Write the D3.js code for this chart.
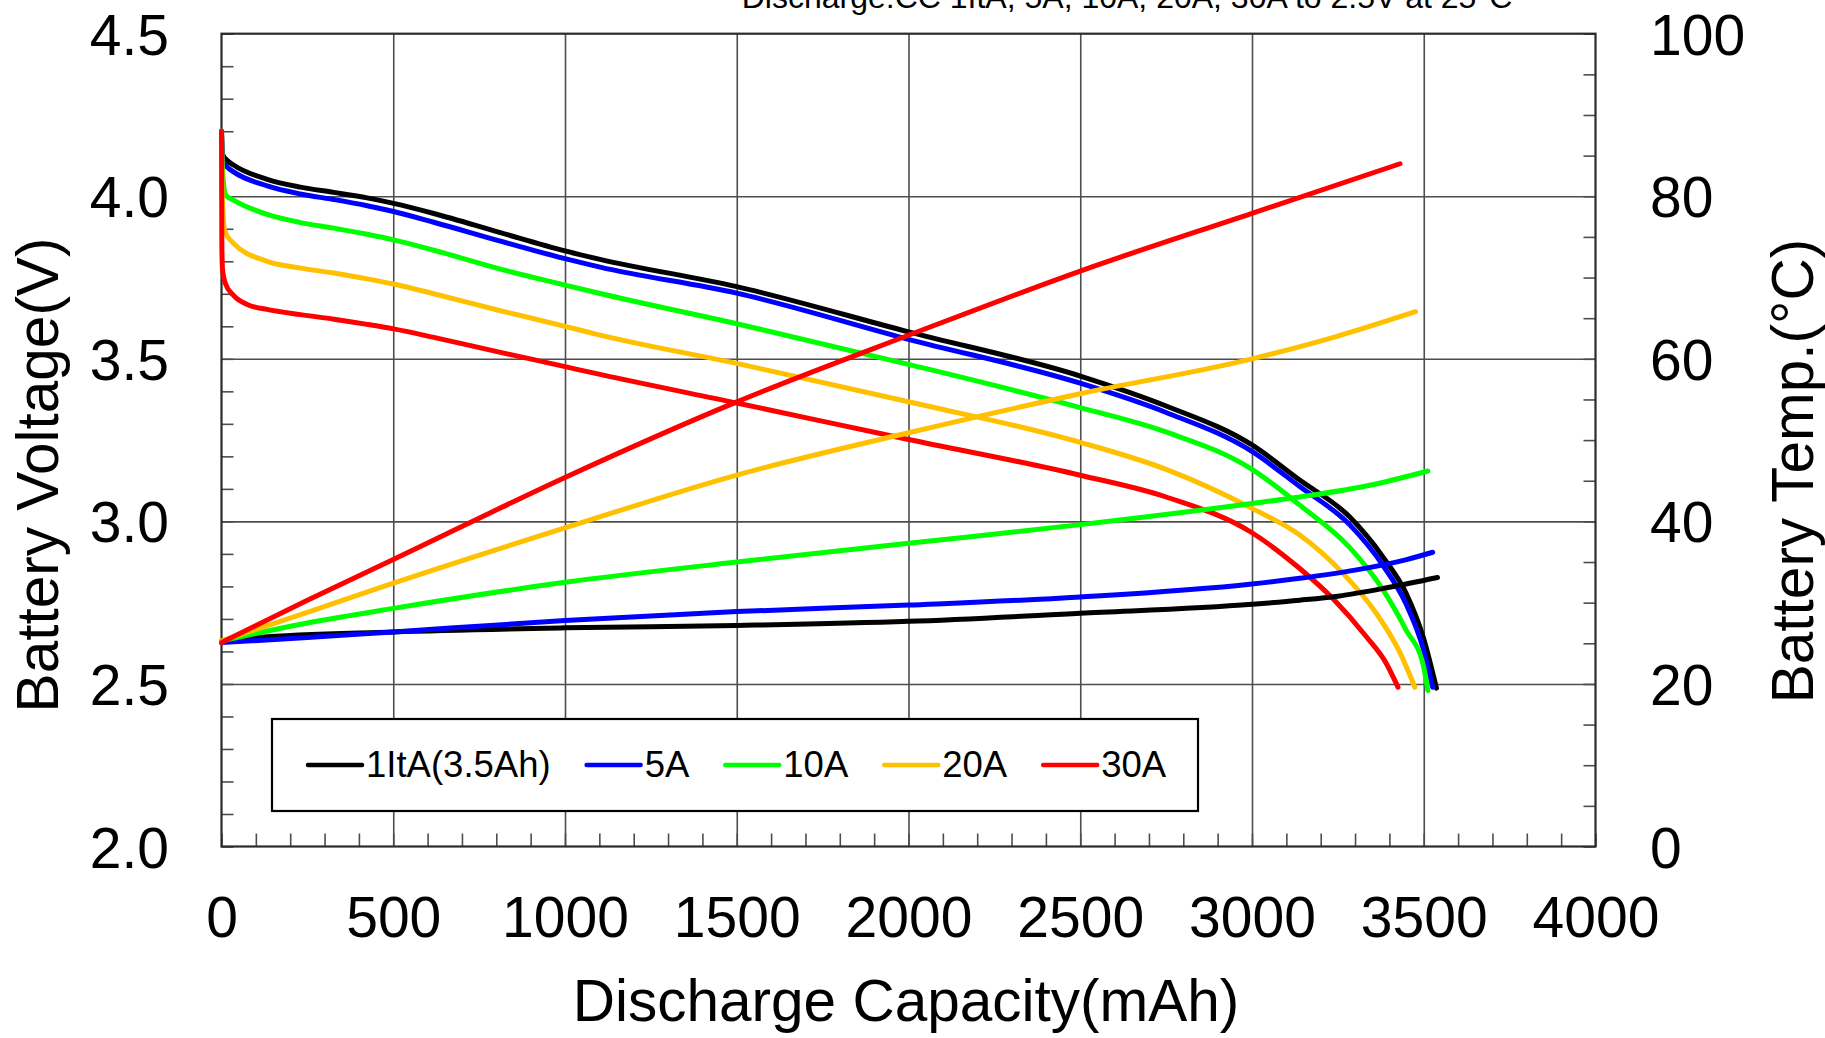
<!DOCTYPE html>
<html>
<head>
<meta charset="utf-8">
<title>Discharge characteristics</title>
<style>
  body { margin: 0; background: #fff; }
  svg text { font-family: "Liberation Sans", Arial, sans-serif; fill: #000; }
  .tick-label text { font-size: 57px; }
  .axis-title { font-size: 58.5px; }
  .chart-title { font-size: 32px; }
  .legend text { font-size: 36.5px; }
  .grid line { stroke: #4d4d4d; stroke-width: 1.6px; }
  .minor line { stroke: #4d4d4d; stroke-width: 1.6px; }
  .grid path, .minor path, .tick-label path { display: none; }
  .frame { fill: none; stroke: #2b2b2b; stroke-width: 2.2px; }
  .curve { fill: none; stroke-width: 5px; stroke-linejoin: round; stroke-linecap: round; }
</style>
</head>
<body>
<div class="viz"></div>
<script src="https://cdnjs.cloudflare.com/ajax/libs/d3/7.8.5/d3.min.js"></script>
<script>
// ---- data ----
var seriesNames = ["1ItA(3.5Ah)", "5A", "10A", "20A", "30A"];

// voltage curves: capacity (mAh) / voltage (V)
var capV_1ItA = [0, 3, 16, 35, 133, 230, 327, 424, 501, 618, 812, 1000, 1102, 1500, 2000, 2500, 2750, 3000, 3139, 3284, 3381, 3449, 3498, 3537];
var volt_1ItA = [4.20, 4.13, 4.111, 4.096, 4.052, 4.028, 4.012, 3.995, 3.978, 3.947, 3.888, 3.832, 3.806, 3.722, 3.583, 3.447, 3.355, 3.235, 3.127, 3.014, 2.891, 2.778, 2.645, 2.487];

var capV_5A = [0, 3, 16, 35, 133, 230, 327, 424, 501, 618, 812, 1000, 1102, 1500, 2000, 2500, 2750, 3000, 3139, 3284, 3381, 3449, 3498, 3526];
var volt_5A = [4.20, 4.11, 4.09, 4.075, 4.032, 4.007, 3.990, 3.971, 3.953, 3.920, 3.862, 3.808, 3.782, 3.702, 3.560, 3.425, 3.335, 3.215, 3.107, 2.99, 2.865, 2.745, 2.61, 2.49];

var capV_10A = [0, 2, 12, 35, 133, 230, 327, 424, 501, 618, 812, 1000, 1102, 1500, 2000, 2500, 2750, 3000, 3139, 3284, 3381, 3449, 3498, 3512];
var volt_10A = [4.20, 4.10, 4.004, 3.988, 3.944, 3.919, 3.902, 3.883, 3.866, 3.834, 3.776, 3.727, 3.701, 3.608, 3.483, 3.35, 3.275, 3.16, 3.05, 2.92, 2.79, 2.665, 2.56, 2.48];

var capV_20A = [0, 2, 10, 35, 133, 230, 327, 424, 501, 618, 812, 1000, 1102, 1500, 2000, 2500, 2750, 3000, 3139, 3265, 3362, 3429, 3474];
var volt_20A = [4.20, 4.00, 3.891, 3.855, 3.80, 3.779, 3.764, 3.746, 3.730, 3.700, 3.648, 3.600, 3.573, 3.486, 3.368, 3.243, 3.16, 3.04, 2.958, 2.84, 2.717, 2.60, 2.49];

var capV_30A = [0, 1, 3, 12, 35, 80, 133, 230, 327, 424, 501, 618, 812, 1000, 1102, 1500, 2000, 2500, 2750, 3000, 3139, 3236, 3333, 3391, 3425];
var volt_30A = [4.20, 3.85, 3.775, 3.73, 3.695, 3.665, 3.652, 3.636, 3.622, 3.606, 3.592, 3.566, 3.520, 3.476, 3.452, 3.364, 3.252, 3.142, 3.075, 2.965, 2.855, 2.762, 2.645, 2.563, 2.49];

// temperature curves: capacity (mAh) / battery temp (degC)
var capT_1ItA = [0, 100, 500, 1000, 1500, 2000, 2500, 3000, 3139, 3250, 3400, 3540];
var temp_1ItA = [25.3, 25.7, 26.4, 26.9, 27.2, 27.7, 28.7, 29.8, 30.3, 30.8, 31.9, 33.1];

var capT_5A = [0, 250, 500, 1000, 1500, 2000, 2500, 3000, 3139, 3300, 3450, 3526];
var temp_5A = [25.1, 25.7, 26.4, 27.8, 28.9, 29.7, 30.7, 32.3, 33.0, 34.0, 35.3, 36.2];

var capT_10A = [0, 250, 500, 1000, 1500, 2000, 2500, 3000, 3139, 3350, 3512];
var temp_10A = [25.3, 27.5, 29.3, 32.5, 35.0, 37.3, 39.6, 42.2, 43.0, 44.5, 46.2];

var capT_20A = [0, 250, 500, 1000, 1500, 2000, 2500, 3000, 3250, 3476];
var temp_20A = [25.3, 28.8, 32.4, 39.2, 45.7, 50.9, 55.7, 60.0, 62.8, 65.8];

var capT_30A = [0, 250, 500, 1000, 1500, 2000, 2500, 3000, 3431];
var temp_30A = [25.1, 30.3, 35.3, 45.4, 54.7, 62.9, 70.8, 77.9, 84.0];

var xTicks = [0, 500, 1000, 1500, 2000, 2500, 3000, 3500, 4000];
var voltTicks = [2.0, 2.5, 3.0, 3.5, 4.0, 4.5];
var tempTicks = [0, 20, 40, 60, 80, 100];

var titleText = "Discharge:CC 1ItA, 5A, 10A, 20A, 30A to 2.5V at 25\u00b0C";

// ---- layout ----
var W = 1825, H = 1038;
var pLeft = 221.5, pRight = 1595.5, pTop = 33.7, pBottom = 846.5;
var colors = ["#000000", "#0000ff", "#00ff00", "#ffc000", "#ff0000"];

var series = [
    {cv: capV_1ItA, v: volt_1ItA, ct: capT_1ItA, t: temp_1ItA},
    {cv: capV_5A, v: volt_5A, ct: capT_5A, t: temp_5A},
    {cv: capV_10A, v: volt_10A, ct: capT_10A, t: temp_10A},
    {cv: capV_20A, v: volt_20A, ct: capT_20A, t: temp_20A},
    {cv: capV_30A, v: volt_30A, ct: capT_30A, t: temp_30A}
];

var x = d3.scaleLinear().domain([0, 4000]).range([pLeft, pRight]);
var yV = d3.scaleLinear().domain([2, 4.5]).range([pBottom, pTop]);
var yT = d3.scaleLinear().domain([0, 100]).range([pBottom, pTop]);

var svg = d3.select('.viz').append('svg')
    .attr('width', W)
    .attr('height', H);

// grid
svg.append('g').attr('class', 'grid')
    .attr('transform', 'translate(0,' + pBottom + ')')
    .call(d3.axisBottom(x).tickValues(d3.range(500, 3501, 500)).tickSize(-(pBottom - pTop)).tickFormat(''));
svg.append('g').attr('class', 'grid')
    .attr('transform', 'translate(' + pLeft + ',0)')
    .call(d3.axisLeft(yV).tickValues([2.5, 3.0, 3.5, 4.0]).tickSize(-(pRight - pLeft)).tickFormat(''));

// minor ticks (inside)
svg.append('g').attr('class', 'minor')
    .attr('transform', 'translate(0,' + pBottom + ')')
    .call(d3.axisBottom(x).tickValues(d3.range(0, 4001, 100)).tickSize(-13).tickFormat(''));
svg.append('g').attr('class', 'minor')
    .attr('transform', 'translate(' + pLeft + ',0)')
    .call(d3.axisLeft(yV).tickValues(d3.range(20, 46).map(function (d) { return d / 10; })).tickSize(-12).tickFormat(''));
svg.append('g').attr('class', 'minor')
    .attr('transform', 'translate(' + pRight + ',0)')
    .call(d3.axisRight(yT).tickValues(d3.range(0, 101, 5)).tickSize(-12).tickFormat(''));

// tick labels
var gx = svg.append('g').attr('class', 'tick-label')
    .attr('transform', 'translate(0,' + pBottom + ')')
    .call(d3.axisBottom(x).tickValues(xTicks).tickSize(0).tickFormat(d3.format('d')));
gx.selectAll('line').remove();
gx.selectAll('text').attr('y', 90).attr('dy', null);

var gl = svg.append('g').attr('class', 'tick-label')
    .attr('transform', 'translate(' + pLeft + ',0)')
    .call(d3.axisLeft(yV).tickValues(voltTicks).tickSize(0).tickFormat(d3.format('.1f')));
gl.selectAll('line').remove();
gl.selectAll('text').attr('x', -(pLeft - 169)).attr('dy', '0.36em');

var gr = svg.append('g').attr('class', 'tick-label')
    .attr('transform', 'translate(' + pRight + ',0)')
    .call(d3.axisRight(yT).tickValues(tempTicks).tickSize(0).tickFormat(d3.format('d')));
gr.selectAll('line').remove();
gr.selectAll('text').attr('x', 1650 - pRight).attr('dy', '0.36em');

svg.selectAll('.tick-label').attr('font-size', null).attr('font-family', null);

// frame
svg.append('rect').attr('class', 'frame')
    .attr('x', pLeft).attr('y', pTop)
    .attr('width', pRight - pLeft).attr('height', pBottom - pTop);

// curves
var lineV = d3.line()
    .x(function (d) { return x(d[0]); })
    .y(function (d) { return yV(d[1]); })
    .curve(d3.curveMonotoneX);
var lineT = d3.line()
    .x(function (d) { return x(d[0]); })
    .y(function (d) { return yT(d[1]); })
    .curve(d3.curveMonotoneX);

series.forEach(function (s, i) {
    svg.append('path').attr('class', 'curve')
        .attr('stroke', colors[i])
        .attr('d', lineV(d3.zip(s.cv, s.v)));
});
series.forEach(function (s, i) {
    svg.append('path').attr('class', 'curve')
        .attr('stroke', colors[i])
        .attr('stroke-width', 4.6)
        .attr('d', lineT(d3.zip(s.ct, s.t)));
});

// legend
var legend = svg.append('g').attr('class', 'legend');
legend.append('rect')
    .attr('x', 272).attr('y', 719)
    .attr('width', 926).attr('height', 92)
    .attr('fill', '#fff').attr('stroke', '#000').attr('stroke-width', 2.2);

var lx = 308;
seriesNames.forEach(function (name, i) {
    legend.append('line')
        .attr('x1', lx).attr('x2', lx + 54)
        .attr('y1', 765).attr('y2', 765)
        .attr('stroke', colors[i]).attr('stroke-width', 4.5)
        .attr('stroke-linecap', 'round');
    var t = legend.append('text')
        .attr('x', lx + 58).attr('y', 777)
        .text(name);
    lx = lx + 58 + t.node().getComputedTextLength() + 36;
});

// titles
svg.append('text').attr('class', 'axis-title')
    .attr('x', 906).attr('y', 1021)
    .attr('text-anchor', 'middle')
    .text('Discharge Capacity(mAh)');

svg.append('text').attr('class', 'axis-title')
    .attr('transform', 'translate(58,475)rotate(-90)')
    .attr('text-anchor', 'middle')
    .text('Battery Voltage(V)');

svg.append('text').attr('class', 'axis-title')
    .attr('transform', 'translate(1813,471)rotate(-90)')
    .attr('text-anchor', 'middle')
    .text('Battery Temp.(\u00b0C)');

svg.append('text').attr('class', 'chart-title')
    .attr('x', 1127).attr('y', 8)
    .attr('text-anchor', 'middle')
    .text(titleText);
</script>
</body>
</html>
